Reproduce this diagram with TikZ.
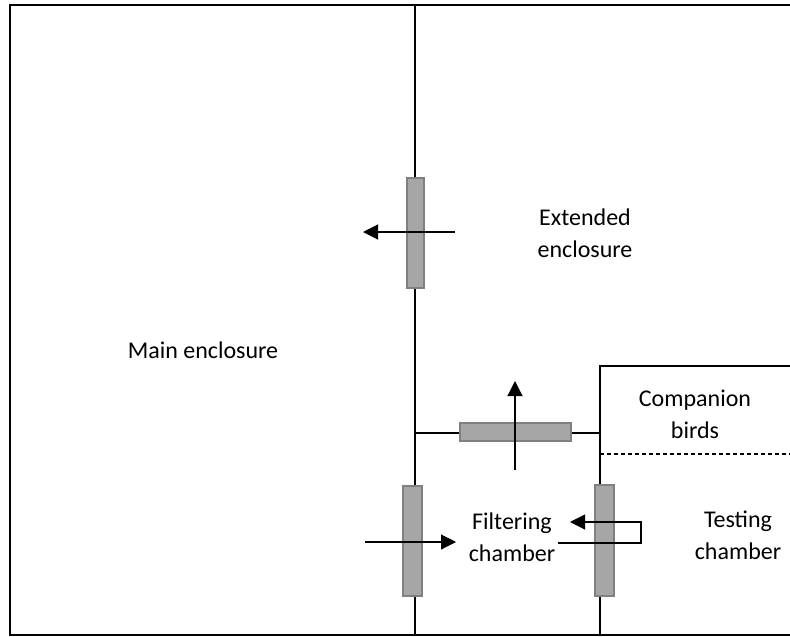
\documentclass[tikz,border=0pt]{standalone}
\usepackage{fontspec}
\setmainfont{Carlito}
\usetikzlibrary{arrows.meta}
\tikzset{
  wall/.style={line width=2.6pt, black},
  thin/.style={line width=1.1pt, black},
  door/.style={draw=black!50, fill=black!35, line width=2pt, inner sep=0pt, outer sep=0pt},
  flow/.style={line width=1.1pt, -{Triangle[length=15pt,width=15pt]}},
  lbl/.style={align=center, font=\fontsize{24}{32}\selectfont, inner sep=0pt}
}
\begin{document}
\begin{tikzpicture}[x=1pt,y=-1pt]
\useasboundingbox (0,0) rectangle (790,637);
% frame
\coordinate (tl) at (10,5);
\coordinate (tr) at (790,5);
\coordinate (bl) at (10,635);
\coordinate (br) at (790,635);
\draw[wall] (tr) -- (tl) -- (bl) -- (br);
% walls
\coordinate (wt) at (415,5);
\coordinate (wj) at (415,433);
\coordinate (wb) at (415,635);
\coordinate (rj) at (600,433);
\coordinate (rb) at (600,635);
\draw[wall] (wt) -- (wb);
\draw[wall] (wj) -- (rj) -- (rb);
% companion box
\coordinate (ct) at (600,366);
\coordinate (cr) at (790,366);
\coordinate (dl) at (600,454);
\coordinate (dr) at (790,454);
\draw[thin] (rj) -- (ct) -- (cr);
\draw[line width=1.1pt, dash pattern=on 4pt off 3pt] (dl) -- (dr);
% doors
\node[door, minimum width=17pt, minimum height=110pt] (d1) at (415.5,233) {};
\node[door, minimum width=111pt, minimum height=18pt] (d2) at (515.5,432) {};
\node[door, minimum width=19pt, minimum height=110pt] (d3) at (412.5,541) {};
\node[door, minimum width=19pt, minimum height=111pt] (d4) at (604.5,540.5) {};
% labels
\node[lbl] (main) at (203,350) {Main enclosure};
\node[lbl] (ext) at (585,233) {Extended\\enclosure};
\node[lbl] (comp) at (695,414) {Companion\\birds};
\node[lbl] (filt) at (512,537) {Filtering\\chamber};
\node[lbl] (test) at (738,535) {Testing\\chamber};
% arrows
\coordinate (a1s) at (455,232);
\coordinate (a1e) at (363,232);
\draw[flow] (a1s) -- (a1e);
\coordinate (a2s) at (515,470);
\coordinate (a2e) at (515,381);
\draw[flow] (a2s) -- (a2e);
\coordinate (a3s) at (365,542);
\coordinate (a3e) at (456,542);
\draw[flow] (a3s) -- (a3e);
\coordinate (a4s) at (558,543);
\coordinate (a4c) at (641,543);
\coordinate (a4d) at (641,522);
\coordinate (a4e) at (570,522);
\draw[flow] (a4s) -- (a4c) -- (a4d) -- (a4e);
\end{tikzpicture}
\end{document}
